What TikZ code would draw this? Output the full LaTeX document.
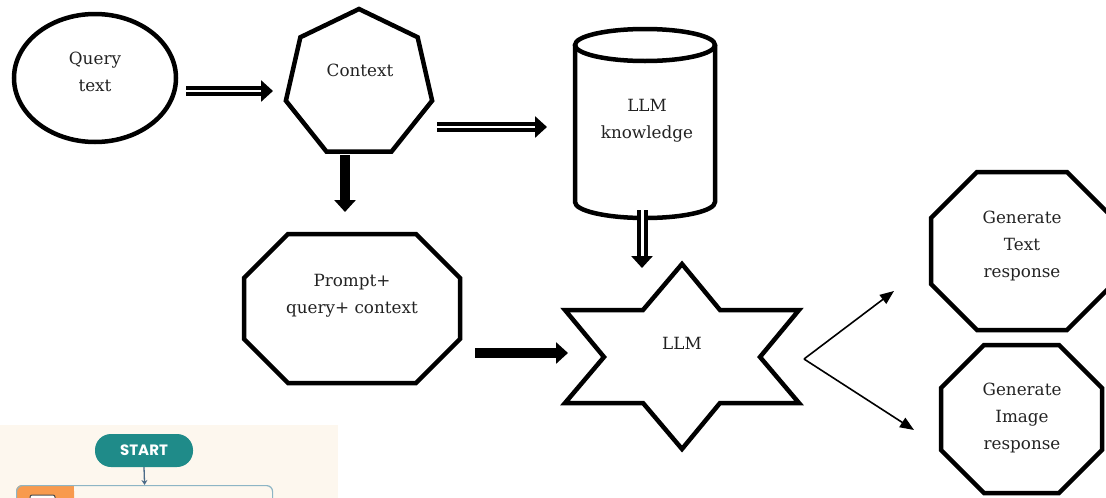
\documentclass[tikz,border=0pt]{standalone}
\usepackage{fontspec}
\setmainfont{DejaVu Serif}
\newfontfamily\startfont{Poppins}
\usetikzlibrary{arrows.meta,shapes.geometric,calc}
\definecolor{creamc}{HTML}{FDF7EE}
\definecolor{tealc}{HTML}{1F8B89}
\definecolor{orangec}{HTML}{F89A4E}
\definecolor{boxc}{HTML}{8DB5C5}
\definecolor{slatec}{HTML}{4B6B88}
\definecolor{inkc}{HTML}{222222}
\begin{document}
\begin{tikzpicture}[x=1pt,y=-1pt,
  shp/.style={draw=black,line width=4.5pt,line join=miter},
  lbl/.style={align=center,inner sep=0pt,text=inkc,font=\fontsize{16.8}{27}\selectfont},
  anchorbox/.style={inner sep=0pt,minimum size=1pt},
  dblarrow/.style={draw=black,line width=4pt,double=white,double distance=2pt,-{Triangle[length=12pt,width=21pt]}},
  fatarrow/.style={draw=black,line width=10pt,-{Triangle[length=12pt,width=21pt]}},
  thinarrow/.style={draw=black,line width=1.6pt,-{Triangle[length=14pt,width=11pt]}},
  startpill/.style={fill=tealc,rounded corners=16pt,minimum width=98pt,minimum height=33pt,inner sep=0pt,text=white,font=\startfont\bfseries\fontsize{15}{15}\selectfont},
  startarrow/.style={draw=slatec,line width=1.3pt,-{Stealth[length=5pt,width=6pt]}}
]
\useasboundingbox (0,0) rectangle (1106,498);
\clip (0,0) rectangle (1106,498);

% ---- shapes ----
\node[shp,ellipse,minimum width=162pt,minimum height=128pt,inner sep=0pt] (q) at (95,78) {};
\node[lbl] (qt) at (95,72) {Query\\text};

\node[shp,regular polygon,regular polygon sides=7,minimum size=150pt,inner sep=0pt] (ctx) at (359,84) {};
\node[lbl] (ctxt) at (360,70) {Context};

\node[anchorbox] (kb) at (645,124) {};
\draw[shp] (575,45) -- (575,202) arc[start angle=180,end angle=0,x radius=70,y radius=16] -- (715,45);
\draw[shp] (645,45) ellipse [x radius=70,y radius=16];
\node[lbl] (kbt) at (647,121) {LLM\\knowledge};

\node[anchorbox] (prm) at (352,309) {};
\draw[shp] (288,234) -- (416,234) -- (460,278) -- (460,339) -- (416,383) -- (288,383) -- (244,339) -- (244,278) -- cycle;
\node[lbl] (prmt) at (352,296) {Prompt+\\query+ context};

\node[anchorbox] (llm) at (682,357) {};
\draw[shp] (682,264) -- (720,310) -- (799,310) -- (760,357) -- (799,403) -- (720,403) -- (682,449) -- (643,403) -- (565,403) -- (604,357) -- (565,310) -- (643,310) -- cycle;
\node[lbl] (llmt) at (682,343) {LLM};

\node[anchorbox] (o1) at (1022,251) {};
\draw[shp] (977,172) -- (1067,172) -- (1113,218) -- (1113,284) -- (1067,330) -- (977,330) -- (931,284) -- (931,218) -- cycle;
\node[lbl] (o1t) at (1022,246) {Generate\\Text\\response};

\node[anchorbox] (o2) at (1021,419) {};
\draw[shp] (984,345) -- (1059,345) -- (1102,388) -- (1102,450) -- (1059,493) -- (984,493) -- (941,450) -- (941,388) -- cycle;
\node[lbl] (o2t) at (1022,418) {Generate\\Image\\response};

% ---- connectors ----
\draw[dblarrow] ($(q)+(91,13)$) -- ($(ctx)+(-86,7)$);
\draw[dblarrow] ($(ctx)+(78,43)$) -- ($(kb)+(-98,3)$);
\draw[fatarrow] ($(ctx)+(-14,71)$) -- ($(prm)+(-7,-97)$);
\draw[dblarrow,double distance=3pt] ($(kb)+(-3,86)$) -- ($(llm)+(-40,-89)$);
\draw[fatarrow] ($(prm)+(123,44)$) -- ($(llm)+(-114,-4)$);
\coordinate (sp) at ($(llm)+(122,2)$);
\draw[thinarrow] (sp) -- ($(o1)+(-128,40)$);
\draw[thinarrow] (sp) -- ($(o2)+(-107,11)$);

% ---- fragment of another chart (bottom left) ----
\fill[creamc] (0,425) rectangle (338,498);
\node[startpill] (start) at (144,450.5) {START};
\fill[orangec,rounded corners=6pt] (16,485) rectangle (74,530);
\fill[orangec] (60,485) rectangle (74,530);
\node[draw=boxc,line width=1.2pt,rounded corners=6pt,minimum width=256pt,minimum height=45pt,inner sep=0pt,anchor=north west] (box) at (16,485) {};
\draw[fill=white,draw=black!70,line width=1pt,rounded corners=2pt] (30,495) rectangle (55,515);
\draw[startarrow] (start.south) -- (box.north);
\end{tikzpicture}
\end{document}
